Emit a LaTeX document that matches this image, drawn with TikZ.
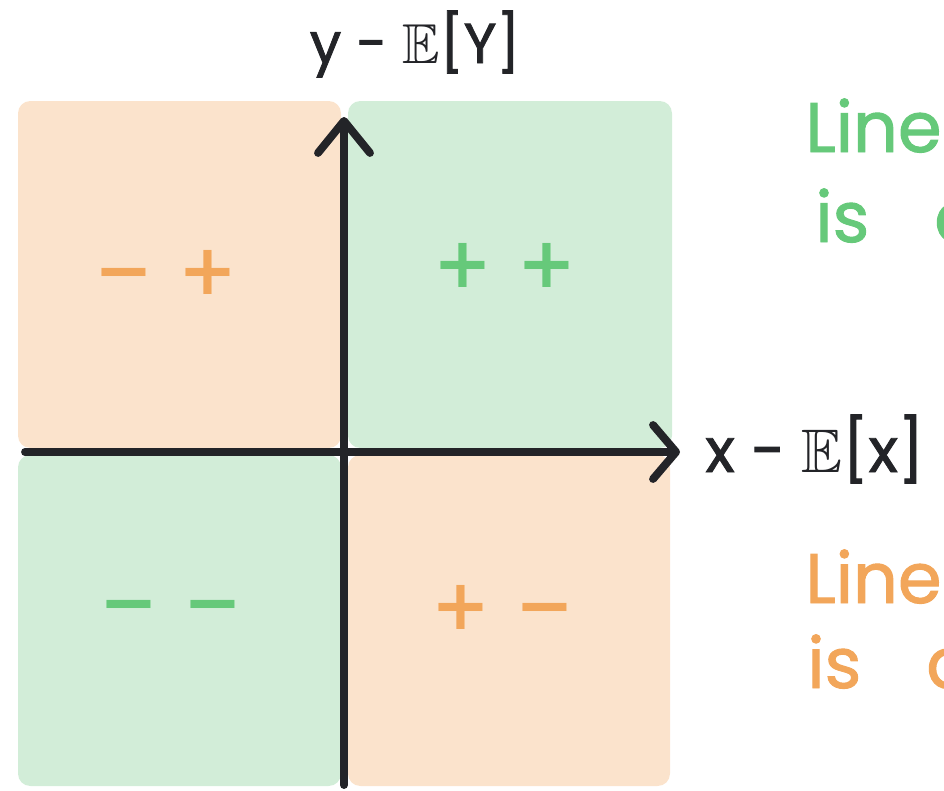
\documentclass[tikz,border=0pt]{standalone}
\usepackage{amssymb}
\usepackage{fontspec}
\setmainfont{Poppins}
\newfontfamily\inkfont[FakeBold=1.4]{Poppins}
\newfontfamily\signfont{DejaVu Sans}
\usetikzlibrary{arrows.meta}
\definecolor{peachFill}{RGB}{251,227,204}
\definecolor{mintFill}{RGB}{210,237,216}
\definecolor{signOrange}{RGB}{242,166,90}
\definecolor{signGreen}{RGB}{102,201,122}
\definecolor{inkBlack}{RGB}{35,36,40}
\tikzset{
  quad peach/.style={fill=peachFill,rounded corners=7pt},
  quad mint/.style={fill=mintFill,rounded corners=7pt},
  sign orange/.style={text=signOrange,inner sep=0pt,font=\signfont\bfseries\fontsize{40}{40}\selectfont},
  sign green/.style={text=signGreen,inner sep=0pt,font=\signfont\bfseries\fontsize{40}{40}\selectfont},
  axis line/.style={line width=4.5pt,draw=inkBlack,line cap=round},
  axis label/.style={text=inkBlack,inner sep=0pt,font=\inkfont\fontsize{32}{32}\selectfont},
  note green/.style={text=signGreen,anchor=base west,inner sep=0pt,font=\inkfont\fontsize{40}{40}\selectfont},
  note orange/.style={text=signOrange,anchor=base west,inner sep=0pt,font=\inkfont\fontsize{40}{40}\selectfont}
}

\begin{document}
\begin{tikzpicture}[x=.02cm,y=-.02cm]
  \useasboundingbox (0,0) rectangle (944,791);
  \clip (0,0) rectangle (944,791);
  % quadrants
  \fill[quad peach] (18,101) rectangle (341,448);
  \fill[quad mint] (348,101) rectangle (672,448);
  \fill[quad mint] (18,455) rectangle (341,786);
  \fill[quad peach] (348,455) rectangle (670,786);
  % axes
  \coordinate (xtail) at (25,452);
  \coordinate (xtip) at (680,452);
  \coordinate (ytail) at (344,785);
  \coordinate (ytip) at (344,117);
  \draw[axis line,-{Straight Barb[length=.46cm,width=1.08cm,round]}] (xtail) -- (xtip);
  \draw[axis line,-{Straight Barb[length=.64cm,width=1.04cm,round]}] (ytail) -- (ytip);
  \node[axis label,anchor=base] (ylabel) at (415,63) {y - $\mathbb{E}$[Y]};
  \node[axis label,anchor=base west,font=\inkfont\fontsize{35}{35}\selectfont] (xlabel) at (705,472) {x - $\mathbb{E}$[x]};
  % signs
  \node[sign orange] (signTL) at (166,272) {− +};
  \node[sign green] (signTR) at (505,265) {+ +};
  \node[sign green] (signBL) at (171,613) {− −};
  \node[sign orange] (signBR) at (503,607) {+ −};
  % notes (cut at the right edge)
  \node[note green] (posLine) at (805,152) {Line};
  \node[note green] (posIs) at (815,242) {is\hspace{1.3cm}a};
  \node[note orange] (negLine) at (805,603) {Line};
  \node[note orange] (negIs) at (807,688) {is\hspace{1.3cm}a};
\end{tikzpicture}
\end{document}
